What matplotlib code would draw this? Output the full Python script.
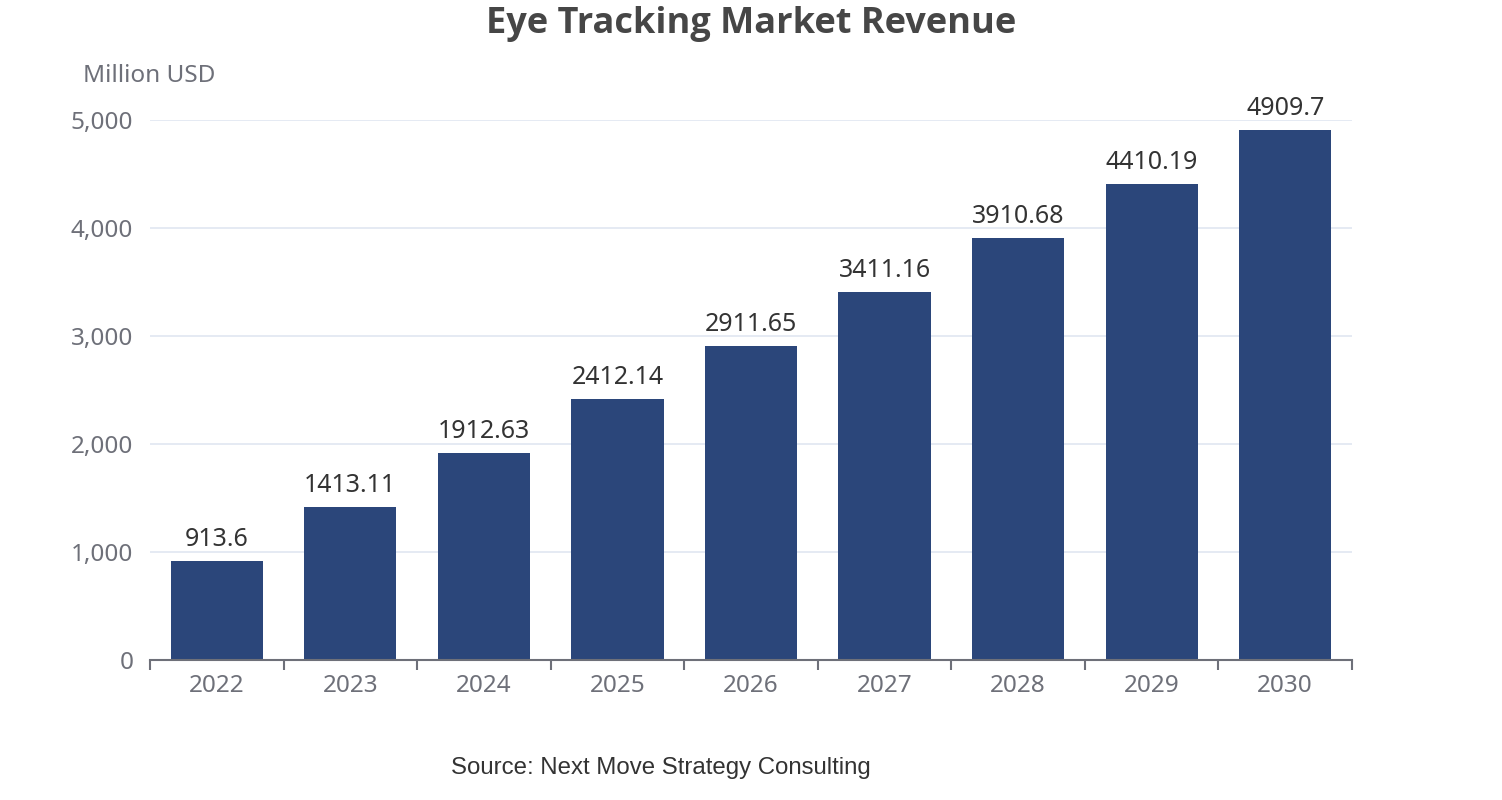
import matplotlib
matplotlib.use("Agg")
import matplotlib.pyplot as plt
from matplotlib.ticker import FuncFormatter, FixedLocator

years = ["2022", "2023", "2024", "2025", "2026", "2027", "2028", "2029", "2030"]
revenue = [913.6, 1413.11, 1912.63, 2412.14, 2911.65, 3411.16, 3910.68, 4410.19, 4909.7]
value_labels = ["913.6", "1413.11", "1912.63", "2412.14", "2911.65", "3411.16", "3910.68", "4410.19", "4909.7"]
y_ticks = [0, 1000, 2000, 3000, 4000, 5000]

FONT = ["Noto Sans", "DejaVu Sans"]
plt.rcParams["font.family"] = FONT

fig = plt.figure(figsize=(15.02, 8.0), dpi=100)
ax = fig.add_axes([150/1502, 140/800, 1202/1502, 540/800])

x = list(range(len(years)))
bars = ax.bar(x, revenue, width=0.69, color="#2B467A", zorder=3)
ax.set_xlim(-0.5, len(years) - 0.5)
ax.set_ylim(0, 5000)

ax.yaxis.set_major_locator(FixedLocator(y_ticks))
ax.yaxis.set_major_formatter(FuncFormatter(lambda v, p: f"{int(v):,}"))
ax.grid(axis="y", color="#E0E6F1", linewidth=1.2, zorder=0)
ax.tick_params(axis="y", length=0, labelsize=17.5, labelcolor="#6E7079", pad=12)

ax.set_xticks(x)
ax.set_xticklabels(years)
ax.set_xticks([i - 0.5 for i in range(len(years) + 1)], minor=True)
ax.tick_params(axis="x", which="major", length=0, labelsize=17.5, labelcolor="#6E7079", pad=10)
ax.tick_params(axis="x", which="minor", length=7, width=1.5, color="#6E7079", direction="out")

for s in ["top", "right", "left"]:
    ax.spines[s].set_visible(False)
ax.spines["bottom"].set_color("#6E7079")
ax.spines["bottom"].set_linewidth(1.5)
ax.spines["bottom"].set_zorder(4)

for b, lab in zip(bars, value_labels):
    ax.annotate(lab, (b.get_x() + b.get_width()/2, b.get_height()),
                xytext=(0, 6.5), textcoords="offset points",
                ha="center", va="bottom", fontsize=18, color="#333333")

fig.text(751/1502, 1 - 24/800, "Eye Tracking Market Revenue", ha="center", va="center",
         fontsize=26, fontweight="bold", color="#464646", family=["Open Sans", "DejaVu Sans"])
fig.text(83/1502, 1 - 76/800, "Million USD", ha="left", va="center",
         fontsize=17.5, color="#6E7079")
fig.text(661/1502, 1 - 768/800, "Source: Next Move Strategy Consulting", ha="center", va="center",
         fontsize=17.3, color="#333333", family=["Liberation Sans", "DejaVu Sans"])

fig.savefig("out.png", dpi=100, facecolor="white")
